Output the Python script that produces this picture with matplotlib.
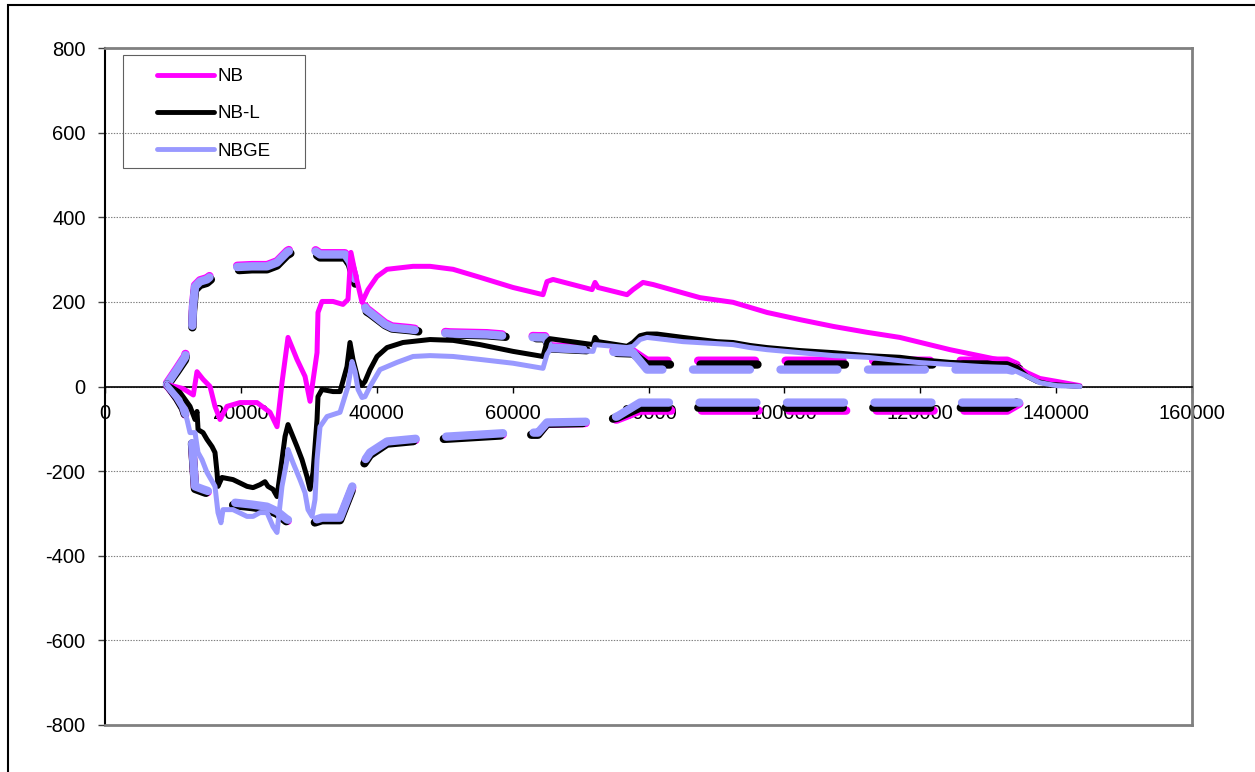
import matplotlib
matplotlib.use("Agg")
import matplotlib.pyplot as plt
from matplotlib.lines import Line2D
from matplotlib.patches import Rectangle

plt.rcParams['font.family'] = ['Liberation Sans', 'DejaVu Sans']
plt.rcParams['font.size'] = 14.5
plt.rcParams['lines.scale_dashes'] = False
plt.rcParams['axes.unicode_minus'] = False

# ---------------- data ----------------
nb_x = [9100, 11500, 13000, 13540, 14430, 15460, 16190, 16930, 17960, 19870, 22370, 24290, 25320,
        26050, 26940, 28260, 29440, 30180, 31210, 31350, 31940, 33560, 35030, 35770, 36200, 36800,
        37830, 38710, 40040, 41510, 45340, 47840, 51230, 55200, 60060, 64470, 65060, 65950, 71690,
        72130, 72570, 76840, 77720, 79190, 80670, 87580, 92440, 94940, 97450, 102300, 107200,
        112200, 117000, 124400, 129200, 132800, 134200, 135700, 137600, 140100, 143500]
nb_y = [5, -5, -20, 35, 17, 0, -47, -78, -47, -38, -38, -61, -95,
        9, 116, 64, 24, -35, 80, 175, 201, 201, 194, 206, 317, 270,
        199, 229, 260, 277, 284, 284, 277, 258, 234, 217, 248, 253, 229,
        246, 234, 217, 229, 246, 241, 210, 199, 187, 175, 158, 142,
        128, 116, 87, 71, 59, 47, 33, 19, 12, 2]

nbl_x = [9130, 11040, 12510, 13250, 13540, 13700, 14430, 15010, 15750, 16190, 16490, 16630, 17220,
         18840, 20900, 21790, 22820, 23550, 23990, 24730, 25320, 26050, 26500, 26940, 28260, 29000,
         29730, 30180, 30620, 31210, 31350, 31940, 33560, 34590, 35620, 36060, 36500, 37240, 37830,
         38270, 39010, 40040, 41510, 43860, 47840, 51230, 55200, 60060, 64470, 65060, 65500, 71830,
         72130, 72570, 76840, 77720, 78750, 79780, 81250, 85080, 90090, 92440, 94940, 97450,
         102300, 107200, 112200, 117000, 119530, 124380, 129240, 132770, 134250, 135720, 137190,
         139100, 143500]
nbl_y = [5, -14, -47, -78, -59, -102, -109, -125, -142, -156, -203, -236, -215,
         -220, -236, -239, -232, -225, -236, -243, -260, -173, -118, -90, -142, -173,
         -213, -243, -203, -78, -24, -7, -12, -12, 47, 104, 64, 17, 3,
         12, 40, 71, 92, 104, 111, 109, 99, 83, 71, 106, 113, 99,
         116, 106, 95, 104, 120, 124, 124, 116, 106, 104, 97, 92,
         85, 80, 73, 69, 64, 57, 54, 54, 45, 24, 12,
         5, 0]

nbge_x = [9130, 11040, 12070, 12510, 13250, 13690, 14280, 15010, 16190, 16630, 17070, 17370, 18840,
          20900, 21790, 22820, 23850, 24730, 25320, 26050, 26790, 26940, 27670, 28700, 29440, 29880,
          30470, 30910, 31210, 31650, 32680, 34590, 35770, 36360, 36800, 37240, 37830, 38270, 39010,
          40480, 42980, 45340, 47840, 51230, 55200, 60060, 64470, 65060, 65500, 71830, 72130, 76840,
          77720, 78750, 79780, 85080, 92440, 94940, 97450, 102300, 107200, 112200, 117000, 119530,
          124380, 129240, 132770, 134250, 135720, 137600, 140100, 143500]
nbge_y = [5, -31, -78, -109, -109, -156, -173, -203, -236, -298, -322, -291, -291,
          -307, -307, -298, -298, -331, -345, -236, -173, -149, -180, -220, -251, -291,
          -307, -267, -173, -95, -71, -61, 0, 59, 35, -7, -26, -24, 0,
          40, 57, 71, 73, 71, 64, 55, 43, 76, 87, 83, 99, 92,
          95, 111, 116, 106, 99, 92, 87, 80, 73, 69, 61, 57,
          52, 47, 45, 35, 24, 9, 2, 0]

# upper confidence bands (shared x)
up_x = [9130, 10600, 11780, 12220, 12810, 12950, 13250, 13980, 15010, 15900, 17220, 17660, 21640,
        23850, 25320, 26050, 26790, 27520, 28700, 30000, 31650, 35330, 36060, 37240, 37830, 38420,
        39010, 41220, 42250, 44900, 47100, 50780, 56230, 60060, 63740, 64770, 65500, 71830, 72500,
        77720, 79780, 132800, 135700]
nb_up = [8, 43, 72, 107, 126, 190, 239, 251, 256, 268, 280, 284, 287,
         287, 296, 308, 320, 327, 339, 333, 315, 315, 298, 232, 209, 185,
         178, 150, 142, 138, 133, 128, 126, 121, 119, 119, 95, 90, 86,
         83, 61, 61, 40]
nbl_up = [2, 35, 63, 97, 115, 178, 228, 240, 245, 257, 269, 273, 277,
          277, 286, 298, 310, 317, 329, 323, 305, 305, 288, 220, 196, 178,
          172, 145, 137, 133, 128, 123, 121, 116, 114, 114, 90, 85, 81,
          78, 52, 52, 35]
nbge_up = [5, 40, 69, 104, 123, 187, 236, 248, 253, 265, 277, 281, 284,
           284, 293, 305, 317, 324, 336, 330, 312, 312, 295, 229, 206, 182,
           175, 147, 139, 135, 130, 125, 123, 118, 116, 116, 92, 87, 83,
           80, 40, 40, 30]

# lower confidence bands (shared x)
lo_x = [9130, 10600, 11480, 12220, 12810, 13100, 13250, 14430, 15900, 17660, 21640, 23850, 25320,
        26790, 28700, 30180, 31940, 34590, 36800, 37830, 39010, 41510, 47400, 50780, 60060, 63740,
        65060, 71830, 75370, 78750, 132800, 135700]
nb_lo = [3, -27, -50, -88, -133, -203, -239, -246, -254, -275, -282, -287, -298,
         -317, -329, -322, -313, -313, -223, -187, -159, -133, -124, -121, -112, -112,
         -88, -86, -78, -57, -57, -30]
nbl_lo = [5, -28, -52, -90, -136, -206, -242, -249, -257, -278, -285, -290, -301,
          -320, -332, -325, -316, -316, -226, -190, -162, -135, -126, -123, -114, -114,
          -88, -86, -74, -50, -50, -24]
nbge_lo = [5, -24, -47, -85, -130, -200, -236, -243, -251, -272, -279, -284, -295,
           -314, -326, -319, -310, -310, -220, -184, -156, -130, -121, -118, -109, -109,
           -85, -83, -71, -38, -38, -38]

labels = ['NB', 'NB-L', 'NBGE']
colors = ['#FF00FF', '#000000', '#9999FF']

# ---------------- figure ----------------
fig = plt.figure(figsize=(12.55, 7.72), dpi=100)
ax = fig.add_axes([105 / 1255, 1 - 725 / 772, 1087 / 1255, 677 / 772])

band_kw = dict(lw=6, linestyle=(16, (41, 22)), dash_capstyle='round', dash_joinstyle='round', zorder=3)
for yu, c in zip([nb_up, nbl_up, nbge_up], colors):
    ax.plot(up_x, yu, color=c, **band_kw)
for yl, c in zip([nb_lo, nbl_lo, nbge_lo], colors):
    ax.plot(lo_x, yl, color=c, **band_kw)

solid_kw = dict(lw=3.6, solid_capstyle='round', solid_joinstyle='round', zorder=4)
for xs, ys, c in zip([nb_x, nbl_x, nbge_x], [nb_y, nbl_y, nbge_y], colors):
    ax.plot(xs, ys, color=c, **solid_kw)

ax.set_xlim(0, 160000)
ax.set_ylim(-800, 800)
ax.set_xticks(range(0, 160001, 20000))
ax.set_yticks(range(-800, 801, 200))

ax.spines['bottom'].set_position(('data', 0))
ax.spines['bottom'].set_linewidth(1.2)
ax.spines['left'].set_linewidth(1.5)
for s in ['top', 'right']:
    ax.spines[s].set_color('#808080')
    ax.spines[s].set_linewidth(2)
ax.axhline(-800, color='#808080', lw=2, clip_on=False, zorder=2.6)

ax.yaxis.grid(True, color='#808080', linestyle=(0, (1, 1)), linewidth=0.8)
ax.tick_params(axis='y', direction='out', length=5, width=1, color='#404040', pad=9)
ax.tick_params(axis='x', direction='out', length=4.3, width=1, pad=8)

# legend
handles = [Line2D([], [], color=c, lw=3.5, solid_capstyle='round') for c in colors]
ax.legend(handles, labels, loc='upper left', bbox_to_anchor=(157 / 1255, 1 - 68 / 772),
          bbox_transform=fig.transFigure, frameon=False, borderpad=0, borderaxespad=0,
          fontsize=13.5, handlelength=3.05, handletextpad=0.17, labelspacing=1.07)
fig.patches.append(Rectangle((123 / 1255, 1 - 168 / 772), 182 / 1255, 113 / 772,
                             transform=fig.transFigure, fill=False, ec='#606060', lw=0.8))

# outer chart frame
fig.patches.append(Rectangle((8 / 1255, -0.05), 1.2, 1.05 - 5 / 772, transform=fig.transFigure,
                             fill=False, ec='black', lw=1.5))

fig.savefig('out.png', dpi=100)
